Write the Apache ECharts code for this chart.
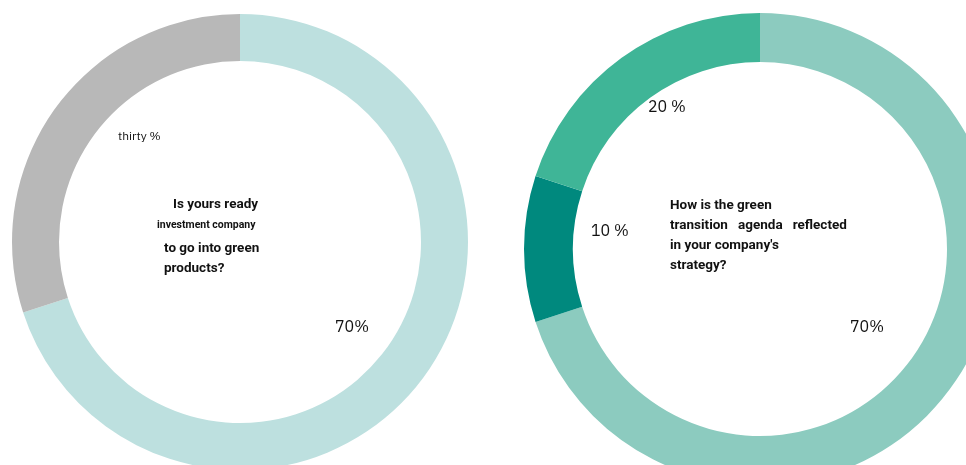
<!DOCTYPE html>
<html>
<head>
<meta charset="utf-8">
<script src="https://cdn.jsdelivr.net/npm/echarts@6/dist/echarts.min.js"></script>
<style>
  html, body { margin: 0; padding: 0; background: #ffffff; }
  #chart { width: 966px; height: 465px; }
</style>
</head>
<body>
<div id="chart"></div>
<script>
// Survey 1: readiness to move into green products
const readyNames = ['Ready', 'Not ready'];
const readyValues = [70, 30];
const readyLabels = ['70%', 'thirty %'];
const readyColors = ['#bde0df', '#b8b8b8'];
const readyQuestion = ['Is yours ready', 'investment company', 'to go into green', 'products?'];

// Survey 2: green transition agenda in company strategy
const agendaNames = ['Fully reflected', 'Not reflected', 'Partly reflected'];
const agendaValues = [70, 10, 20];
const agendaLabels = ['70%', '10 %', '20 %'];
const agendaColors = ['#8ccbbf', '#00897e', '#3fb597'];
const agendaQuestion = ['How is the green', 'transition   agenda   reflected', "in your company's", 'strategy?'];

// Where each percentage label sits inside its ring: [x, y, font size]
const readyLabelPos = [[335, 327, 16], [118, 137, 12]];
const agendaLabelPos = [[850, 327, 16], [591, 231, 16], [648, 107, 16]];

const labelFont = '"IBM Plex Sans", "Open Sans", "Noto Sans", sans-serif';
const titleFont = 'Roboto, "Noto Sans", sans-serif';

function ring(names, values, labels, colors, positions, center, radius) {
  return {
    type: 'pie',
    center: center,
    radius: radius,
    startAngle: 90,
    clockwise: true,
    silent: true,
    animation: false,
    avoidLabelOverlap: false,
    labelLine: { show: false },
    label: {
      show: true,
      color: '#111111',
      fontFamily: labelFont,
      formatter: p => labels[p.dataIndex]
    },
    labelLayout: p => ({
      x: positions[p.dataIndex][0],
      y: positions[p.dataIndex][1],
      align: 'left',
      verticalAlign: 'middle'
    }),
    data: values.map((v, i) => ({
      name: names[i],
      value: v,
      itemStyle: { color: colors[i] },
      label: { fontSize: positions[i][2] }
    }))
  };
}

function questionText(lines, xs, ys, sizes) {
  return lines.map((t, i) => ({
    type: 'text',
    x: xs[i],
    y: ys[i],
    silent: true,
    style: {
      text: t,
      fill: '#111111',
      font: 'bold ' + sizes[i] + 'px ' + titleFont,
      textAlign: 'left',
      textVerticalAlign: 'middle'
    }
  }));
}

const chart = echarts.init(document.getElementById('chart'), null, { renderer: 'canvas' });
chart.setOption({
  backgroundColor: '#ffffff',
  animation: false,
  series: [
    ring(readyNames, readyValues, readyLabels, readyColors, readyLabelPos, [240, 242], [181, 228]),
    ring(agendaNames, agendaValues, agendaLabels, agendaColors, agendaLabelPos, [760, 249], [187, 236])
  ],
  graphic: [
    ...questionText(readyQuestion, [173, 157, 164, 164], [205, 225, 249, 269], [13.5, 10.5, 13.5, 13.5]),
    ...questionText(agendaQuestion, [670, 670, 670, 670], [206, 226, 246, 266], [13.5, 13.5, 13.5, 13.5])
  ]
});
</script>
</body>
</html>
